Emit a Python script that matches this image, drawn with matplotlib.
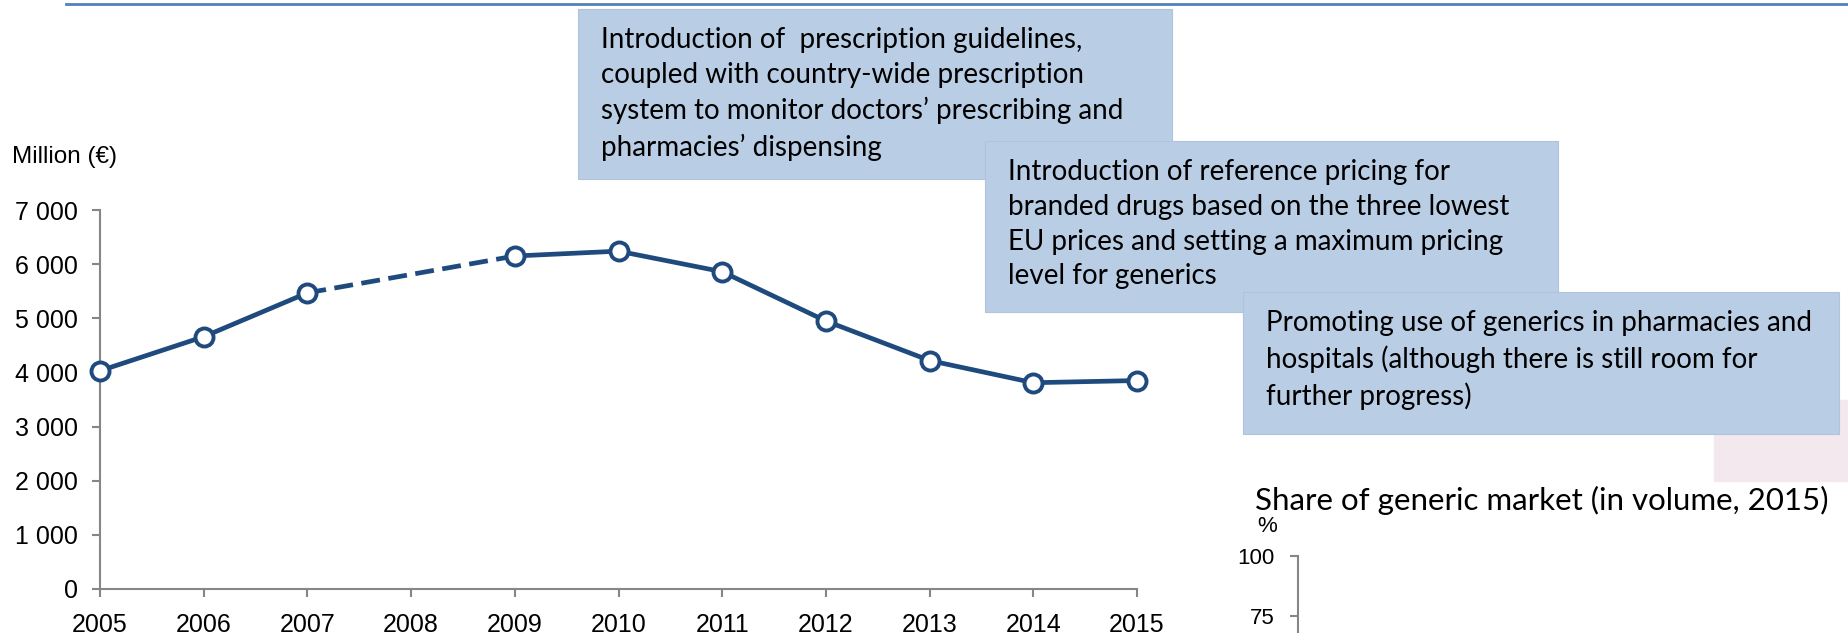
import matplotlib.pyplot as plt
from matplotlib.patches import Rectangle
from matplotlib.lines import Line2D

# Pharmaceutical spending, million EUR (no value for 2008)
years = [2005, 2006, 2007, 2008, 2009, 2010, 2011, 2012, 2013, 2014, 2015]
spending = [4030, 4660, 5470, None, 6150, 6240, 5860, 4950, 4220, 3810, 3850]
y_ticks = [0, 1000, 2000, 3000, 4000, 5000, 6000, 7000]
y_labels = ['0', '1 000', '2 000', '3 000', '4 000', '5 000', '6 000', '7 000']

# only the top of the share panel is visible in the picture
share_ticks = [75, 100]

notes = [
    "Introduction of  prescription guidelines,\ncoupled with country-wide prescription\n"
    "system to monitor doctors\u2019 prescribing and\npharmacies\u2019 dispensing",
    "Introduction of reference pricing for\nbranded drugs based on the three lowest\n"
    "EU prices and setting a maximum pricing\nlevel for generics",
    "Promoting use of generics in pharmacies and\nhospitals (although there is still room for\n"
    "further progress)",
]

W, H = 1848, 633
BLUE = '#1F4A7D'
GREY = '#868686'
BOX = '#B9CDE5'

fig = plt.figure(figsize=(W / 100, H / 100), dpi=100)


def fx(px):
    return px / W


def fy(py):
    return 1 - py / H


# thin rule across the top
fig.add_artist(Line2D([fx(66), 1], [fy(4), fy(4)], color='#4F81BD', lw=2))

# main line chart
ax = fig.add_axes([fx(100), fy(589), fx(1137) - fx(100), (589 - 210) / H])
pts = [(x, v) for x, v in zip(years, spending) if v is not None]
xs = [p[0] for p in pts]
vs = [p[1] for p in pts]
ax.plot(xs[:3], vs[:3], color=BLUE, lw=3.4, zorder=3)
ax.plot(xs[2:4], vs[2:4], color=BLUE, lw=3.4, ls=(0, (4, 1.8)), zorder=3)
ax.plot(xs[3:], vs[3:], color=BLUE, lw=3.4, zorder=3)
ax.plot(xs, vs, ls='none', marker='o', ms=13, mfc='white', mec=BLUE, mew=2.8,
        zorder=4, clip_on=False)

ax.set_xlim(2005, 2015)
ax.set_ylim(0, 7000)
ax.set_xticks(years)
ax.set_xticklabels([str(y) for y in years])
ax.set_yticks(y_ticks)
ax.set_yticklabels(y_labels)
for s in ['top', 'right']:
    ax.spines[s].set_visible(False)
for s in ['left', 'bottom']:
    ax.spines[s].set_color(GREY)
    ax.spines[s].set_linewidth(1.5)
ax.tick_params(direction='out', length=6, width=1.5, color=GREY,
               labelsize=18, labelcolor='black')
ax.tick_params(axis='x', pad=11)
ax.tick_params(axis='y', pad=10)
for lab in ax.get_xticklabels() + ax.get_yticklabels():
    lab.set_family('Liberation Sans')

fig.text(fx(12), fy(157), 'Million (\u20ac)', family='Liberation Sans',
         fontsize=17.5, va='center', ha='left')

# pale pink block behind the last note
fig.add_artist(Rectangle((fx(1714), fy(481)), fx(1848) - fx(1714), (481 - 400) / H,
                         transform=fig.transFigure, color='#F2E8EE', zorder=1))

# annotation boxes (x0, y0, x1, y1 in pixels)
boxes = [(578, 9, 1172, 179), (985, 141, 1558, 312), (1243, 292, 1839, 434)]
for (x0, y0, x1, y1), txt in zip(boxes, notes):
    fig.add_artist(Rectangle((fx(x0), fy(y1)), fx(x1) - fx(x0), (y1 - y0) / H,
                             transform=fig.transFigure, facecolor=BOX,
                             edgecolor='#AFC3DC', lw=0.8, zorder=2))
    fig.text(fx(x0 + 23), fy(y0 + 18), txt, family='Lato', fontsize=20,
             va='top', ha='left', linespacing=1.42, zorder=3)

# second panel: generic market share (only top visible)
ax2 = fig.add_axes([fx(1298), fy(796), fx(1800) - fx(1298), 240 / H])
ax2.set_ylim(0, 100)
ax2.set_yticks(share_ticks)
ax2.set_xticks([])
for s in ['top', 'right', 'bottom']:
    ax2.spines[s].set_visible(False)
ax2.spines['left'].set_color(GREY)
ax2.spines['left'].set_linewidth(1.5)
ax2.patch.set_alpha(0)
ax2.tick_params(direction='out', length=6, width=1.5, color=GREY,
                labelsize=16, labelcolor='black', pad=11)
for lab in ax2.get_yticklabels():
    lab.set_family('Liberation Sans')

fig.text(fx(1542), fy(500), 'Share of generic market (in volume, 2015)',
         family='Lato', fontsize=22.5, ha='center', va='center')
fig.text(fx(1267), fy(526), '%', family='Liberation Sans', fontsize=16,
         ha='center', va='center')

fig.savefig('out.png', dpi=100)
